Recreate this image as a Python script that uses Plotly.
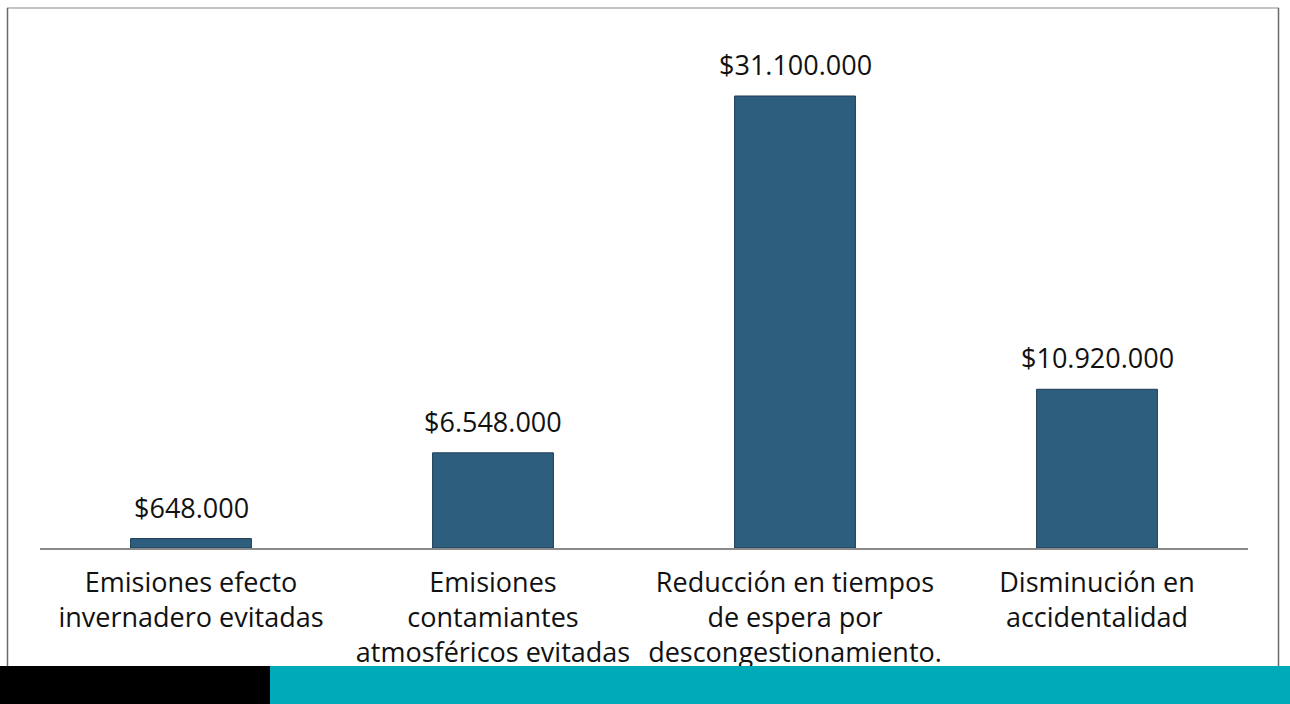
import plotly.graph_objects as go

categories = [
    "Emisiones efecto<br>invernadero evitadas",
    "Emisiones<br>contamiantes<br>atmosféricos evitadas",
    "Reducción en tiempos<br>de espera por<br>descongestionamiento.",
    "Disminución en<br>accidentalidad",
]
values = [648000, 6548000, 31100000, 10920000]

W, H = 1290, 704
L, R, T, B = 40, 42, 20, 156
FONT = "Open Sans, Liberation Sans, Arial"

fig = go.Figure()
fig.add_trace(go.Bar(
    x=categories, y=values,
    marker=dict(color="#2E5E7E", line=dict(color="#1C3A55", width=1)),
    width=0.4,
    hoverinfo="skip",
))

for c, v in zip(categories, values):
    fig.add_annotation(
        x=c, y=v, text="$" + f"{v:,.0f}".replace(",", "."),
        showarrow=False, yanchor="bottom", yshift=11,
        font=dict(family=FONT, size=27, color="#111111"),
    )

ymax = 31100000 * (H - B - T) / (548 - 96)

fig.update_layout(
    width=W, height=H,
    margin=dict(l=L, r=R, t=T, b=B),
    paper_bgcolor="white", plot_bgcolor="white",
    showlegend=False,
    separators=",.",
    xaxis=dict(
        showline=True, linecolor="#8a8a8a", linewidth=1.5,
        ticks="", showgrid=False, zeroline=False,
        tickfont=dict(family=FONT, size=27, color="#111111"),
        ticklabelstandoff=10,
    ),
    yaxis=dict(
        range=[0, ymax], visible=False, showgrid=False, zeroline=False,
    ),
)

def px_x(px):
    return (px - L) / (W - L - R)

def px_y(py):
    return (H - B - py) / (H - B - T)

# outer frame
fig.add_shape(type="line", xref="paper", yref="paper",
              x0=px_x(7), x1=px_x(1279), y0=px_y(8), y1=px_y(8),
              line=dict(color="#c4c4c4", width=2), layer="above")
fig.add_shape(type="line", xref="paper", yref="paper",
              x0=px_x(7.5), x1=px_x(7.5), y0=px_y(8), y1=px_y(666),
              line=dict(color="#6a6a6a", width=1.5), layer="above")
fig.add_shape(type="line", xref="paper", yref="paper",
              x0=px_x(1278.5), x1=px_x(1278.5), y0=px_y(8), y1=px_y(666),
              line=dict(color="#6a6a6a", width=1.5), layer="above")

# bottom band
fig.add_shape(type="rect", xref="paper", yref="paper",
              x0=px_x(0), x1=px_x(270), y0=px_y(704), y1=px_y(666),
              fillcolor="#000000", line=dict(width=0), layer="above")
fig.add_shape(type="rect", xref="paper", yref="paper",
              x0=px_x(270), x1=px_x(1290), y0=px_y(704), y1=px_y(666),
              fillcolor="#00AAB8", line=dict(width=0), layer="above")

fig.write_html("out.html")
